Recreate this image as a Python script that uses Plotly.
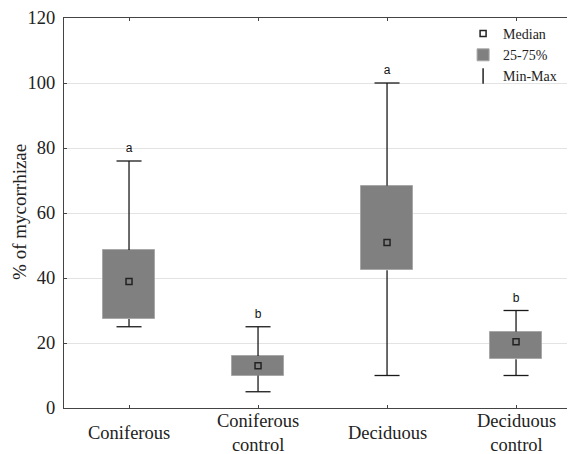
import plotly.graph_objects as go

categories = ["Coniferous", "Coniferous<br>control", "Deciduous", "Deciduous<br>control"]
mins = [25, 5, 10, 10]
q1 = [27.4, 10, 42.4, 15]
medians = [38.9, 13, 50.9, 20.4]
q3 = [48.6, 16, 68.4, 23.5]
maxs = [76, 25, 100, 30]
letters = ["a", "b", "a", "b"]

pos = list(range(len(categories)))
cap = 0.097

serif = "Liberation Serif"
sans = "Liberation Sans"

fig = go.Figure()

# Boxes (25-75%)
fig.add_trace(go.Bar(
    x=pos, base=q1, y=[b - a for a, b in zip(q1, q3)], width=0.4,
    marker=dict(color="#808080", line=dict(color="#a8a8a8", width=1)),
    name="25-75%", legendrank=2, hoverinfo="skip"))

# Whiskers
wx, wy = [], []
for i in pos:
    wx += [i, i, None, i - cap, i + cap, None, i, i, None, i - cap, i + cap, None]
    wy += [q3[i], maxs[i], None, maxs[i], maxs[i], None, q1[i], mins[i], None, mins[i], mins[i], None]
fig.add_trace(go.Scatter(x=wx, y=wy, mode="lines", line=dict(color="#1a1a1a", width=1.3),
                         showlegend=False, hoverinfo="skip"))

# Median
fig.add_trace(go.Scatter(x=pos, y=medians, mode="markers",
                         marker=dict(symbol="square-open", size=6, color="#222",
                                     line=dict(width=1.5, color="#222")),
                         name="Median", legendrank=1))

# Legend-only Min-Max
fig.add_trace(go.Scatter(x=[None], y=[None], mode="markers",
                         marker=dict(symbol="line-ns-open", size=11, color="#222",
                                     line=dict(width=1.5, color="#222")),
                         name="Min-Max", legendrank=3))

# Significance letters
fig.add_trace(go.Scatter(x=pos, y=[m + 3.6 for m in maxs], mode="text", text=letters,
                         textposition="middle center",
                         textfont=dict(family=sans, size=12, color="#111"),
                         showlegend=False, hoverinfo="skip"))

annotations = []
for i, c in enumerate(categories):
    annotations.append(dict(x=i, y=-0.064, xref="x", yref="paper", text=c, showarrow=False,
                            xanchor="center", yanchor="middle",
                            font=dict(family=serif, size=18.5, color="#222")))
annotations.append(dict(x=-0.086, y=0.503, xref="paper", yref="paper", text="% of mycorrhizae",
                        textangle=-90, showarrow=False, xanchor="center", yanchor="middle",
                        font=dict(family=serif, size=19, color="#222")))

fig.update_layout(
    width=567, height=446,
    margin=dict(l=56, r=0, t=10, b=46),
    plot_bgcolor="white", paper_bgcolor="white",
    bargap=0,
    annotations=annotations,
    legend=dict(x=0.781, y=1.0, xanchor="left", yanchor="top",
                font=dict(family=serif, size=14, color="#222"),
                bgcolor="rgba(0,0,0,0)", traceorder="normal",
                itemwidth=30),
    xaxis=dict(range=[-0.504, 3.457], tickvals=pos, showticklabels=False,
               showgrid=False, zeroline=False, showline=True, linecolor="#444", linewidth=1.2,
               mirror="ticks", ticks="inside", ticklen=3, tickcolor="#444", automargin=False),
    yaxis=dict(range=[0, 120], dtick=20, showgrid=True, gridcolor="#e3e3e3", gridwidth=1,
               zeroline=False, showline=True, linecolor="#444", linewidth=1.2,
               ticks="inside", ticklen=3, tickcolor="#444", ticklabelstandoff=4,
               tickfont=dict(family=serif, size=18.5, color="#222"), automargin=False),
    showlegend=True,
)

fig.write_html("out.html")
